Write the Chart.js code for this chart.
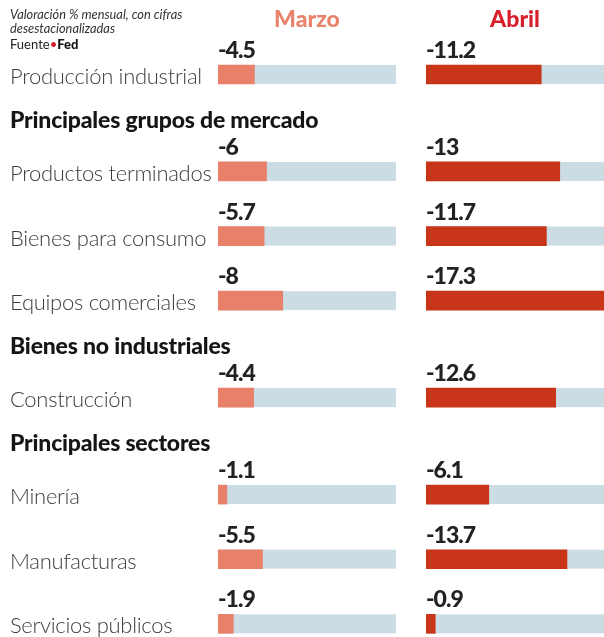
<!DOCTYPE html>
<html><head><meta charset="utf-8">
<script src="https://cdn.jsdelivr.net/npm/chart.js@4"></script>
<style>
html,body{margin:0;padding:0;overflow:hidden;background:#fff;width:604px;height:637px}
#wrap{position:relative;width:604px;height:645px}
canvas{display:block}
</style></head><body>
<div id="wrap"><canvas id="c" width="604" height="645"></canvas></div>
<script>
// ---- data ----
const categories = ['Producción industrial','Productos terminados','Bienes para consumo','Equipos comerciales','Construcción','Minería','Manufacturas','Servicios públicos'];
const sections = ['', 'Principales grupos de mercado', 'Principales grupos de mercado', 'Principales grupos de mercado', 'Bienes no industriales', 'Principales sectores', 'Principales sectores', 'Principales sectores'];
const marzo = [-4.5, -6, -5.7, -8, -4.4, -1.1, -5.5, -1.9];
const abril = [-11.2, -13, -11.7, -17.3, -12.6, -6.1, -13.7, -0.9];
const seriesNames = ['Marzo', 'Abril'];
const noteLines = ['Valoración % mensual, con cifras', 'desestacionalizadas'];
const sourceLabel = 'Fuente';
const sourceName = 'Fed';

// ---- styles ----
const COL_M = '#E8806A', COL_A = '#C83519', TRACK = '#CBDCE4';
const TITLE_M = '#E9836C', TITLE_A = '#D61F2A';

// build slots: optional header, value-label spacer, bar row
const rows = [];
let prev = '';
categories.forEach((c, i) => {
  if (sections[i] && sections[i] !== prev) rows.push({kind: 'header', text: sections[i]});
  prev = sections[i];
  rows.push({kind: 'value', i});
  rows.push({kind: 'bar', i});
});
const labels = rows.map(r => r.kind === 'bar' ? categories[r.i] : (r.kind === 'header' ? r.text : ''));
const mData = rows.map(r => r.kind === 'bar' ? marzo[r.i] : null);
const aData = rows.map(r => r.kind === 'bar' ? abril[r.i] : null);

const deco = {
  id: 'deco',
  beforeDatasetsDraw(chart) {
    const ctx = chart.ctx;
    ctx.save();
    chart.data.datasets.forEach((ds, di) => {
      const meta = chart.getDatasetMeta(di);
      const xs = chart.scales[ds.xAxisID];
      meta.data.forEach((bar, k) => {
        if (ds.data[k] == null) return;
        ctx.fillStyle = TRACK;
        ctx.fillRect(xs.left, bar.y - bar.height / 2, xs.width, bar.height);
      });
    });
    ctx.restore();
  },
  afterDatasetsDraw(chart) {
    const ctx = chart.ctx;
    const ys = chart.scales.y;
    const slot = ys.height / rows.length;
    ctx.save();
    ctx.textBaseline = 'alphabetic';
    // values + series titles
    chart.data.datasets.forEach((ds, di) => {
      const meta = chart.getDatasetMeta(di);
      const xs = chart.scales[ds.xAxisID];
      ctx.font = '900 23px Lato';
      ctx.letterSpacing = '-1px';
      ctx.fillStyle = '#222';
      ctx.textAlign = 'left';
      meta.data.forEach((bar, k) => {
        if (ds.data[k] == null) return;
        ctx.fillText(String(ds.data[k]), xs.left, bar.y - bar.height / 2 - 7);
      });
      ctx.font = '900 23px Lato';
      ctx.letterSpacing = '0px';
      ctx.textAlign = 'center';
      ctx.fillStyle = di === 0 ? TITLE_M : TITLE_A;
      ctx.fillText(seriesNames[di], (xs.left + xs.right) / 2, 27);
    });
    // category labels and section headers
    const meta0 = chart.getDatasetMeta(0);
    ctx.textAlign = 'left';
    rows.forEach((r, k) => {
      if (r.kind === 'bar') {
        const bar = meta0.data[k];
        ctx.font = '300 22px Lato';
        ctx.letterSpacing = '-0.3px';
        ctx.fillStyle = '#3d3d3d';
        ctx.fillText(categories[r.i], 10, bar.y + bar.height / 2);
      } else if (r.kind === 'header') {
        ctx.font = '900 23px Lato';
        ctx.letterSpacing = '-0.2px';
        ctx.fillStyle = '#151515';
        ctx.fillText(r.text, 10, ys.getPixelForValue(k) + slot / 2 + 5);
      }
    });
    // note
    ctx.letterSpacing = '0px';
    ctx.fillStyle = '#333';
    ctx.font = 'italic 12.8px Lato';
    ctx.fillText(noteLines[0], 10, 19);
    ctx.fillText(noteLines[1], 10, 33);
    ctx.font = '13px Lato';
    ctx.fillStyle = '#222';
    ctx.fillText(sourceLabel, 10, 49);
    let x = 10 + ctx.measureText(sourceLabel).width;
    ctx.fillStyle = '#D61F2A';
    ctx.fillText('•', x, 49);
    x += ctx.measureText('•').width;
    ctx.font = '900 13px Lato';
    ctx.fillStyle = '#111';
    ctx.fillText(sourceName, x, 49);
    ctx.restore();
  }
};

new Chart(document.getElementById('c'), {
  type: 'bar',
  data: {
    labels,
    datasets: [
      {label: seriesNames[0], data: mData, xAxisID: 'xM', backgroundColor: COL_M, barThickness: 19, grouped: false, borderWidth: 0},
      {label: seriesNames[1], data: aData, xAxisID: 'xA', backgroundColor: COL_A, barThickness: 19, grouped: false, borderWidth: 0}
    ]
  },
  options: {
    indexAxis: 'y',
    responsive: false,
    animation: false,
    devicePixelRatio: 1,
    layout: {padding: {left: 218, right: 0, top: 26, bottom: 5}},
    plugins: {legend: {display: false}, tooltip: {enabled: false}},
    scales: {
      y: {type: 'category', display: false, offset: true},
      xM: {type: 'linear', position: 'bottom', stack: 'cols', stackWeight: 178, min: -22, max: 0, reverse: true, display: false},
      xGap: {type: 'linear', position: 'bottom', stack: 'cols', stackWeight: 30, display: false},
      xA: {type: 'linear', position: 'bottom', stack: 'cols', stackWeight: 178, min: -17.3, max: 0, reverse: true, display: false}
    }
  },
  plugins: [deco]
});
</script>
</body></html>
